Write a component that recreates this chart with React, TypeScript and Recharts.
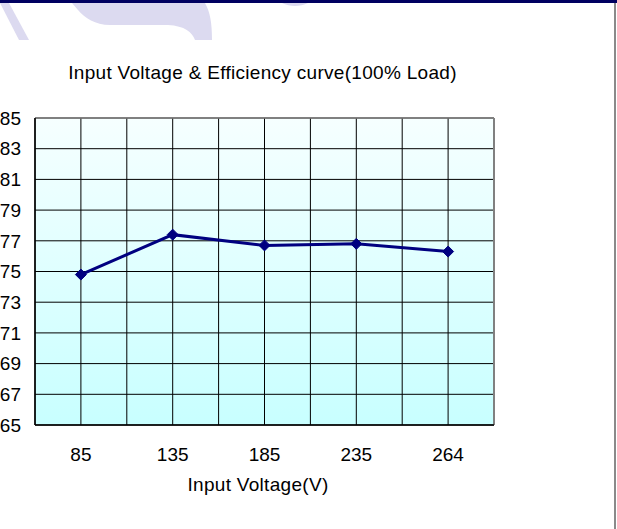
import React from 'react';
import { LineChart, Line, XAxis, YAxis, CartesianGrid, ReferenceLine } from 'recharts';

const categories = ['85', '135', '185', '235', '264'];
const efficiency = [74.8, 77.4, 76.7, 76.8, 76.3];
const yTicks = [65, 67, 69, 71, 73, 75, 77, 79, 81, 83, 85];
const xGridTicks = [-0.5, 0, 0.5, 1, 1.5, 2, 2.5, 3, 3.5, 4, 4.5];
const title = 'Input Voltage & Efficiency curve(100% Load)';
const xTitle = 'Input Voltage(V)';

const data = categories.map((c, i) => ({ pos: i, label: c, eff: efficiency[i] }));

const FONT = '"Liberation Sans", Arial, sans-serif';

const Diamond = (props: any) => {
  const { cx, cy, index } = props;
  const s = 5.5;
  return (
    <polygon
      key={`d-${index}`}
      points={`${cx},${cy - s} ${cx + s},${cy} ${cx},${cy + s} ${cx - s},${cy}`}
      fill="#000080"
      stroke="#000080"
    />
  );
};

export default function App() {
  return (
    <div style={{ position: 'absolute', left: 0, top: 0, width: 617, height: 529, background: '#fff', overflow: 'hidden' }}>
      <svg width={617} height={60} style={{ position: 'absolute', left: 0, top: 0 }}>
        <path d="M0,3 L9,3 L29,40 L19,40 Z" fill="#dcdaf0" />
        <path d="M72,3 L205,3 C210,12 212,22 212,40 L195,40 C192,32 185,26 168,25 L110,25 C95,25 85,18 78,10 Z" fill="#dcdaf0" />
        <path d="M282,3 L308,3 C300,7 290,7 282,3 Z" fill="#dcdaf0" />
      </svg>
      <div style={{ position: 'absolute', left: 0, top: 0, width: 617, height: 3, background: '#000060' }} />
      <div style={{ position: 'absolute', left: 614, top: 3, width: 2, height: 526, background: '#8a8a8a' }} />
      <div style={{ position: 'absolute', left: 0, top: 0 }}>
        <LineChart
          width={617}
          height={529}
          data={data}
          margin={{ top: 118, right: 123, left: 0, bottom: 44 }}
        >
          <defs>
            <linearGradient id="bgGrad" x1="0" y1="0" x2="0" y2="1">
              <stop offset="0%" stopColor="#f6ffff" />
              <stop offset="100%" stopColor="#c8ffff" />
            </linearGradient>
          </defs>
          <CartesianGrid
            stroke="#000"
            strokeWidth={1}
            fill="url(#bgGrad)"
            fillOpacity={1}
          />
          <XAxis
            dataKey="pos"
            type="number"
            domain={[-0.5, 4.5]}
            ticks={xGridTicks}
            interval={0}
            tickFormatter={(v: number) => (Number.isInteger(v) ? categories[v] : '')}
            tickLine={false}
            tickSize={0}
            tickMargin={23}
            height={60}
            axisLine={{ stroke: '#000', strokeWidth: 1.5 }}
            tick={{ fill: '#000', fontSize: 19, fontFamily: FONT }}
          />
          <YAxis
            type="number"
            domain={[65, 85]}
            ticks={yTicks}
            interval={0}
            width={35}
            tickLine={false}
            tickSize={0}
            tickMargin={14}
            axisLine={{ stroke: '#000', strokeWidth: 1.5 }}
            tick={{ fill: '#000', fontSize: 19, fontFamily: FONT }}
          />
          <ReferenceLine y={85} stroke="#808080" strokeWidth={1.5} ifOverflow="visible" />
          <ReferenceLine x={4.5} stroke="#808080" strokeWidth={2} ifOverflow="visible" />
          <Line
            dataKey="eff"
            stroke="#000080"
            strokeWidth={3}
            dot={Diamond}
            activeDot={false}
            isAnimationActive={false}
          />
          <text
            x={262.5}
            y={79}
            textAnchor="middle"
            fontSize={19}
            fontFamily={FONT}
            letterSpacing={0.3}
            fill="#000"
          >
            {title}
          </text>
          <text
            x={258}
            y={491}
            textAnchor="middle"
            fontSize={19}
            fontFamily={FONT}
            letterSpacing={0.3}
            fill="#000"
          >
            {xTitle}
          </text>
        </LineChart>
      </div>
    </div>
  );
}
